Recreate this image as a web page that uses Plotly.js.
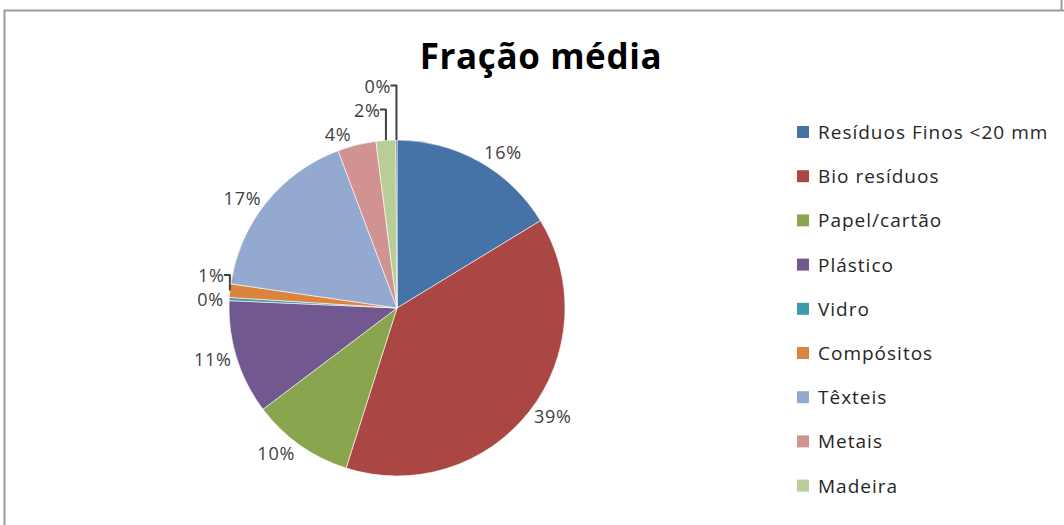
<!DOCTYPE html>
<html>
<head>
<meta charset="utf-8">
<script src="https://cdn.plot.ly/plotly-3.0.1.min.js"></script>
<style>
  html, body { margin: 0; padding: 0; background: #ffffff; }
  #chart { width: 1064px; height: 525px; }
  #chart .annotation-text { letter-spacing: 1px; }
  #chart .slicetext { letter-spacing: 0.8px; }
  #chart .gtitle { letter-spacing: 0.6px; }
</style>
</head>
<body>
<div id="chart"></div>
<script>
// Data
const categories = ["Resíduos Finos <20 mm", "Bio resíduos", "Papel/cartão", "Plástico", "Vidro",
                    "Compósitos", "Têxteis", "Metais", "Madeira", "Outros"];
const values = [16.3, 38.6, 9.8, 11.0, 0.3, 1.3, 17.0, 3.7, 1.9, 0.1];
const colors = ["#4572A7", "#AA4643", "#89A54E", "#71588F", "#4198AF",
                "#DB843D", "#93A9CF", "#D19392", "#B9CD96", "#2C4D75"];
const legendCount = 9; // the reference legend shows the first nine entries

const W = 1064, H = 525;
const px = x => x / W;
const py = y => 1 - y / H;
const FONT = "'Open Sans', Lato, sans-serif";

const trace = {
  type: "pie",
  labels: categories,
  values: values,
  sort: false,
  direction: "clockwise",
  rotation: 0,
  marker: { colors: colors, line: { color: "#ffffff", width: 0.6 } },
  textposition: "outside",
  texttemplate: "%{percent:.0%}",
  outsidetextfont: { family: FONT, size: 18, color: "#404040" },
  hoverinfo: "label+percent",
  showlegend: false,
  domain: { x: [px(229), px(565)], y: [py(476), py(140)] }
};

const shapes = [
  // outer frame lines
  { type: "line", xref: "paper", yref: "paper", x0: px(4), x1: px(1064), y0: py(10.5), y1: py(10.5),
    line: { color: "#9a9a9a", width: 2 } },
  { type: "line", xref: "paper", yref: "paper", x0: px(4.5), x1: px(4.5), y0: py(10), y1: py(525),
    line: { color: "#9a9a9a", width: 2 } },
  { type: "line", xref: "paper", yref: "paper", x0: px(1061.5), x1: px(1061.5), y0: py(0), y1: py(10),
    line: { color: "#9a9a9a", width: 2 } }
];
const annotations = [];
const legTop = 132, legStep = 44.2;
for (let i = 0; i < legendCount; i++) {
  const yc = legTop + i * legStep;
  shapes.push({ type: "rect", xref: "paper", yref: "paper",
    x0: px(797), x1: px(809), y0: py(yc - 6), y1: py(yc + 6),
    fillcolor: colors[i], line: { width: 0 } });
  annotations.push({ xref: "paper", yref: "paper", x: px(816), y: py(yc),
    xanchor: "left", yanchor: "middle", align: "left", showarrow: false, text: categories[i],
    font: { family: FONT, size: 19, color: "#262626" } });
}

const layout = {
  width: W, height: H,
  margin: { l: 0, r: 0, t: 0, b: 0 },
  paper_bgcolor: "#ffffff",
  plot_bgcolor: "#ffffff",
  showlegend: false,
  title: {
    text: "<b>Fração média</b>",
    x: px(541), xanchor: "center", xref: "paper",
    y: py(57), yanchor: "middle", yref: "container",
    font: { family: FONT, size: 35, color: "#000000" }
  },
  shapes: shapes,
  annotations: annotations
};

Plotly.newPlot("chart", [trace], layout, { displayModeBar: false, staticPlot: true });
</script>
</body>
</html>
